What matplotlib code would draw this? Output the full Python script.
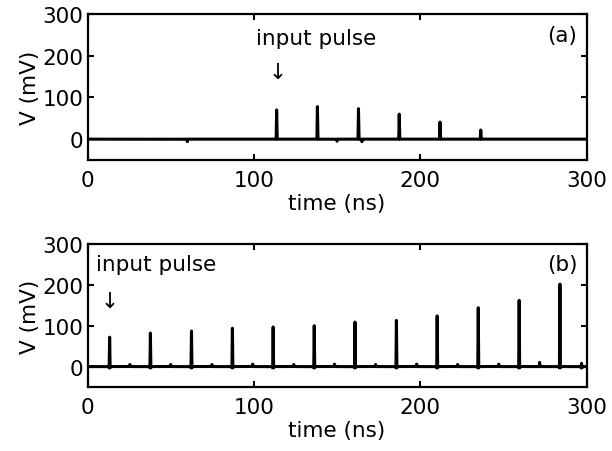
import numpy as np
import matplotlib
matplotlib.use("Agg")
import matplotlib.pyplot as plt

plt.rcParams['font.family'] = ['DejaVu Sans']

# Panel (a): pulse times (ns) and peak amplitudes (mV)
a_times = [113.7, 138.2, 162.9, 187.4, 211.9, 236.4]
a_heights = [76, 78, 73, 60, 41, 22]
a_dip_times = [60, 113.7, 150, 165]
a_dips = [-6, -6, -5, -6]

# Panel (b)
b_times = [13.3, 37.8, 62.5, 87.1, 111.6, 136.3, 160.8, 185.7, 210.2, 234.9, 259.5, 284.0, 297.0]
b_heights = [80, 90, 95, 102, 105, 108, 117, 121, 132, 152, 170, 210, 16]
b_small_times = [25.5, 50.0, 74.8, 99.3, 124.0, 148.5, 173.2, 197.9, 222.5, 247.2, 271.8]
b_small = [5, 5, 5, 6, 5, 6, 5, 6, 5, 6, 10]

xticks = [0, 100, 200, 300]
yticks = [0, 100, 200, 300]


def trace(t, times, heights, width):
    v = np.zeros_like(t)
    for tc, h in zip(times, heights):
        v += h * np.clip(1 - np.abs(t - tc) / width, 0, None)
    return v


t = np.linspace(0, 300, 30001)
va = trace(t, a_times, a_heights, 0.3) + trace(t, a_dip_times, a_dips, 0.3)
vb = (trace(t, b_times, b_heights, 0.3)
      + trace(t, b_times, [-8] * len(b_times), 0.5)
      + trace(t, b_small_times, b_small, 0.3))

fig = plt.figure(figsize=(6.12, 4.52), dpi=100)
ax1 = fig.add_axes([0.143, 0.6438, 0.8154, 0.323])
ax2 = fig.add_axes([0.143, 0.1416, 0.8154, 0.3164])

FS = 15.5
for ax, v, lab in [(ax1, va, '(a)'), (ax2, vb, '(b)')]:
    ax.plot(t, v, color='black', lw=2.2)
    ax.set_xlim(0, 300)
    ax.set_ylim(-50, 300)
    ax.set_xticks(xticks)
    ax.set_yticks(yticks)
    ax.tick_params(direction='in', top=True, right=True, length=4, width=1.5,
                   labelsize=FS)
    ax.tick_params(axis='x', pad=7)
    ax.tick_params(axis='y', pad=3)
    for s in ax.spines.values():
        s.set_linewidth(1.6)
    ax.set_xlabel('time (ns)', fontsize=FS, labelpad=2.5)
    ax.set_ylabel('V (mV)', fontsize=FS, labelpad=2)
    ax.text(285.5, 250, lab, fontsize=FS, ha='center', va='center')

ax1.text(137.6, 243, 'input pulse', fontsize=FS, ha='center', va='center')
ax1.text(114.5, 160, '\u2193', fontsize=FS, ha='center', va='center')
ax2.text(5.2, 250, 'input pulse', fontsize=FS, ha='left', va='center')
ax2.text(13.3, 160, '\u2193', fontsize=FS, ha='center', va='center')

fig.savefig('out.png', dpi=100)
